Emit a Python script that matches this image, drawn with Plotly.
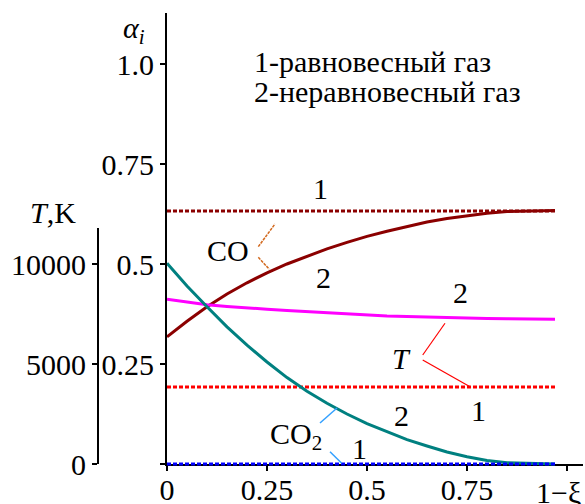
import plotly.graph_objects as go

# ---- data ----
x_vals = [0, 0.05, 0.1, 0.15, 0.2, 0.25, 0.3, 0.35, 0.4, 0.45, 0.5,
          0.55, 0.6, 0.65, 0.7, 0.75, 0.8, 0.85, 0.9, 0.97]
co_noneq = [0.318, 0.357, 0.393, 0.425, 0.453, 0.478, 0.500, 0.520, 0.538, 0.554, 0.569,
            0.582, 0.594, 0.605, 0.614, 0.621, 0.627, 0.631, 0.633, 0.634]
co2_noneq = [0.502, 0.445, 0.393, 0.343, 0.297, 0.255, 0.216, 0.182, 0.152, 0.125, 0.101,
             0.080, 0.061, 0.045, 0.030, 0.018, 0.009, 0.003, 0.001, 0.0]
t_noneq = [8240, 8100, 7960, 7880, 7800, 7740, 7680, 7620, 7560, 7500, 7450,
           7400, 7370, 7340, 7310, 7290, 7270, 7260, 7250, 7240]
x_eq = [0, 0.97]
co_eq = [0.6325, 0.6325]
co2_eq = [0.0, 0.0]
t_eq = [3850, 3850]

x_ticks = [0, 0.25, 0.5, 0.75, 1.0]
x_ticktext = ["0", "0.25", "0.5", "0.75", " "]
a_ticks = [0, 0.25, 0.5, 0.75, 1.0]
a_ticktext = [" ", "0.25", "0.5", "0.75", "1.0"]
t_ticks = [0, 5000, 10000]
t_ticktext = ["0", "5000", "10000"]

FONT = "Liberation Serif"
FS = 30
DOT = "4px,2px"

W, H = 585, 504
ml, mr, mt, mb = 0, 2, 13, 30
pw = W - ml - mr
ph = H - mt - mb          # 461
pad = 10                  # px between plot-area bottom and the x axis line
x0_px = 167
tax_px = 98
ppu = 400                 # px per alpha unit
a_top = (ph - pad) / ppu

fig = go.Figure()
fig.add_trace(go.Scatter(x=x_eq, y=co_eq, mode="lines",
                         line=dict(color="#8B0000", width=3, dash=DOT)))
fig.add_trace(go.Scatter(x=x_vals, y=co_noneq, mode="lines",
                         line=dict(color="#8B0000", width=3)))
fig.add_trace(go.Scatter(x=x_vals, y=co2_noneq, mode="lines", yaxis="y3",
                         line=dict(color="#008080", width=3)))
fig.add_trace(go.Scatter(x=x_eq, y=co2_eq, mode="lines", yaxis="y3",
                         line=dict(color="#0000FF", width=3, dash=DOT)))
fig.add_trace(go.Scatter(x=x_eq, y=t_eq, mode="lines", yaxis="y2",
                         line=dict(color="#FF0000", width=3, dash=DOT)))
fig.add_trace(go.Scatter(x=x_vals, y=t_noneq, mode="lines", yaxis="y2",
                         line=dict(color="#FF00FF", width=3)))

axis_common = dict(showline=True, linecolor="black", linewidth=2, ticks="outside",
                   ticklen=5, tickwidth=2, tickcolor="black", showgrid=False,
                   zeroline=False, tickfont=dict(family=FONT, size=FS, color="black"))

fig.update_layout(
    width=W, height=H, margin=dict(l=ml, r=mr, t=mt, b=mb, autoexpand=False),
    paper_bgcolor="white", plot_bgcolor="rgba(0,0,0,0)", showlegend=False,
    xaxis=dict(domain=[(x0_px - ml) / pw, 1], range=[0, 1.04], tickmode="array",
               tickvals=x_ticks, ticktext=x_ticktext, layer="below traces",
               ticklabelstandoff=-7, anchor="y", **axis_common),
    yaxis=dict(domain=[pad / ph, 1], range=[0, a_top], tickmode="array",
               tickvals=a_ticks, ticktext=a_ticktext, layer="below traces",
               **axis_common),
    yaxis2=dict(domain=[pad / ph, (pad + 236) / ph], range=[0, 11800], anchor="free",
                position=(tax_px - ml) / pw, tickmode="array", tickvals=t_ticks,
                ticktext=t_ticktext, **axis_common),
    yaxis3=dict(domain=[0, 1], range=[-pad / ppu, a_top], visible=False,
                anchor="x", showgrid=False, zeroline=False),
)

def txt(x, y, s, xanchor="center", ref="data"):
    r = dict(xref="x", yref="y") if ref == "data" else dict(xref="paper", yref="paper")
    fig.add_annotation(x=x, y=y, text=s, showarrow=False,
                       xanchor=xanchor, yanchor="middle",
                       font=dict(family=FONT, size=FS, color="black"), **r)

txt(0.2125, 1.0075, "1-равновесный газ", "left")
txt(0.2125, 0.9325, "2-неравновесный газ", "left")
txt(0.3825, 0.69, "1")
txt(0.1525, 0.535, "CO")
txt(0.39, 0.4675, "2")
txt(0.7325, 0.43, "2")
txt(0.585, 0.265, "<i>T</i>")
txt(0.7775, 0.135, "1")
txt(0.585, 0.1225, "2")
txt(0.3225, 0.07, "CO<sub>2</sub>")
txt(0.48, 0.04, "1")
txt(134 / pw, (H - mb - 30) / ph, "<i>α<sub>i</sub></i>", ref="paper")
txt(53 / pw, (H - mb - 213) / ph, "<i>T</i>,K", ref="paper")
txt(558 / pw, (H - mb - 492) / ph, "1−ξ", ref="paper")

def seg(x0, y0, x1, y1, color, width=1.5, dash="solid"):
    fig.add_shape(type="line", xref="x", yref="y", x0=x0, y0=y0, x1=x1, y1=y1,
                  line=dict(color=color, width=width, dash=dash))

seg(0.2283, 0.5433, 0.27, 0.6, "#D2691E", dash="3px,1px")
seg(0.2283, 0.5168, 0.2558, 0.4868, "#D2691E", dash="3px,1px")
seg(0.6393, 0.2725, 0.695, 0.3518, "#FF0000", width=1.2)
seg(0.6393, 0.26, 0.7575, 0.1933, "#FF0000", width=1.2)
seg(0.3825, 0.1025, 0.425, 0.14, "#33A0FF")
seg(0.4075, 0.0308, 0.4368, 0.0018, "#33A0FF")

fig.write_html("out.html", config={"displayModeBar": False},
               post_script="document.body.style.margin='0';")
